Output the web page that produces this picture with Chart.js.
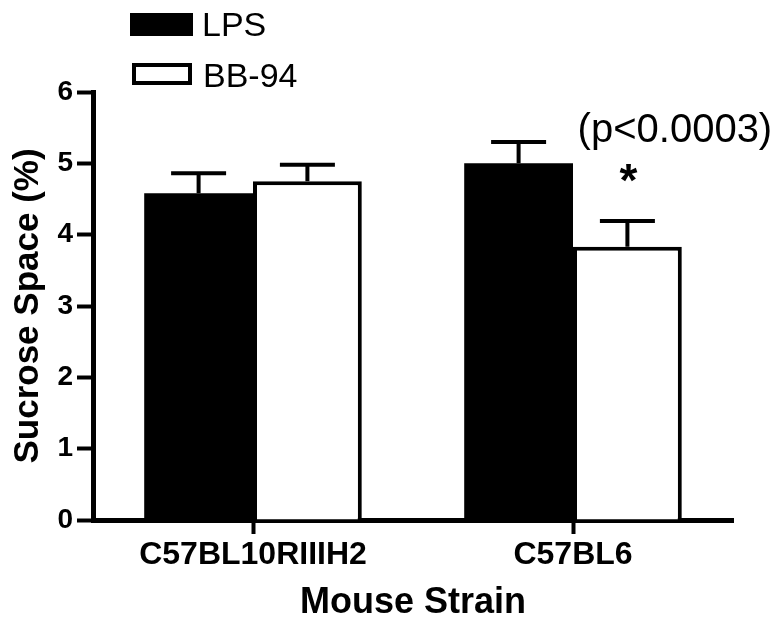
<!DOCTYPE html>
<html>
<head>
<meta charset="utf-8">
<script src="https://cdn.jsdelivr.net/npm/chart.js@4"></script>
<style>
  html, body { margin: 0; padding: 0; background: #fff; }
  #wrap { width: 784px; height: 627px; }
</style>
</head>
<body>
<div id="wrap"><canvas id="myChart" width="784" height="627"></canvas></div>
<script>
// categories
const strains = ['C57BL10RIIIH2', 'C57BL6'];
// mean values (%)
const lps = [4.58, 5.00];
const bb94 = [4.75, 3.83];
// error (SEM), drawn upward only
const lpsErr = [0.28, 0.30];
const bb94Err = [0.23, 0.36];
// y ticks
const yTicks = [0, 1, 2, 3, 4, 5, 6];

const FONT = '"Liberation Sans", Arial, Helvetica, sans-serif';

// error bars, legend and significance note
const extras = {
  id: 'extras',
  afterDatasetsDraw(chart) {
    const c = chart.ctx;
    const y = chart.scales.y;
    const errs = [lpsErr, bb94Err];
    c.save();
    c.strokeStyle = '#000';
    c.lineWidth = 4;
    c.lineCap = 'butt';
    chart.data.datasets.forEach((ds, i) => {
      chart.getDatasetMeta(i).data.forEach((bar, j) => {
        const top = y.getPixelForValue(ds.data[j]);
        const hi = y.getPixelForValue(ds.data[j] + errs[i][j]);
        c.beginPath();
        c.moveTo(bar.x, top);
        c.lineTo(bar.x, hi);
        c.moveTo(bar.x - 27.5, hi);
        c.lineTo(bar.x + 27.5, hi);
        c.stroke();
      });
    });

    // asterisk + p value over the BB-94 bar of C57BL6
    const b = chart.getDatasetMeta(1).data[1];
    c.fillStyle = '#000';
    c.textAlign = 'center';
    c.textBaseline = 'alphabetic';
    c.font = 'bold 46px ' + FONT;
    c.fillText('*', b.x + 1, y.getPixelForValue(4.91) + 26);
    c.textBaseline = 'middle';
    c.font = '40px ' + FONT;
    c.fillText('(p<0.0003)', b.x + 47.5, y.getPixelForValue(5.45));

    // legend
    c.textAlign = 'left';
    c.textBaseline = 'alphabetic';
    c.font = '34px ' + FONT;
    c.fillRect(130, 13, 63, 23);
    c.fillText(chart.data.datasets[0].label, 202, 36);
    c.lineWidth = 4;
    c.strokeRect(134, 65, 56, 18);
    c.fillText(chart.data.datasets[1].label, 203, 87);
    c.restore();
  }
};

const ctx = document.getElementById('myChart');
const myChart = new Chart(ctx, {
  type: 'bar',
  data: {
    labels: strains,
    datasets: [
      {
        label: 'LPS',
        data: lps,
        backgroundColor: '#000',
        borderColor: '#000',
        borderWidth: 0
      },
      {
        label: 'BB-94',
        data: bb94,
        backgroundColor: '#fff',
        borderColor: '#000',
        borderWidth: 4
      }
    ]
  },
  plugins: [extras],
  options: {
    responsive: false,
    animation: false,
    devicePixelRatio: 1,
    layout: { padding: { top: 92, right: 51, bottom: 0, left: 0 } },
    categoryPercentage: 0.68,
    barPercentage: 1,
    plugins: {
      legend: { display: false },
      tooltip: { enabled: false }
    },
    scales: {
      x: {
        offset: true,
        afterFit(scale) { scale.height = 107; },
        grid: {
          display: true,
          offset: false,
          drawOnChartArea: false,
          drawTicks: true,
          tickLength: 14,
          tickWidth: 4,
          tickColor: '#000'
        },
        border: { display: true, width: 5, color: '#000' },
        ticks: {
          color: '#000',
          padding: 2,
          font: { family: FONT, size: 32, weight: 'bold' }
        },
        title: {
          display: true,
          text: 'Mouse Strain',
          color: '#000',
          padding: { top: 0, bottom: 6 },
          font: { family: FONT, size: 36, weight: 'bold', lineHeight: 1 }
        }
      },
      y: {
        min: yTicks[0],
        max: yTicks[yTicks.length - 1],
        afterFit(scale) { scale.width = 93; },
        afterBuildTicks(scale) { scale.ticks = yTicks.map(v => ({ value: v })); },
        grid: {
          display: true,
          drawOnChartArea: false,
          drawTicks: true,
          tickLength: 16,
          tickWidth: 4,
          tickColor: '#000'
        },
        border: { display: true, width: 5, color: '#000' },
        ticks: {
          color: '#000',
          padding: 4,
          font: { family: FONT, size: 28, weight: 'bold' }
        },
        title: {
          display: true,
          text: 'Sucrose Space (%)',
          color: '#000',
          padding: { top: 11, bottom: 0 },
          font: { family: FONT, size: 35, weight: 'bold', lineHeight: 1 }
        }
      }
    }
  }
});
</script>
</body>
</html>
